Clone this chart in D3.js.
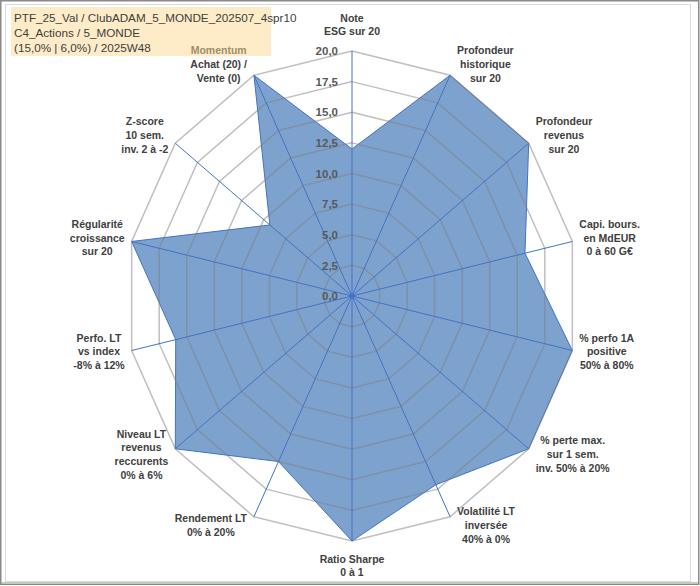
<!DOCTYPE html>
<html>
<head>
<meta charset="utf-8">
<script src="https://cdn.jsdelivr.net/npm/d3@7"></script>
<style>
  body { margin: 0; background: #fff; }
  svg { display: block; }
</style>
</head>
<body>
<div id="chart"></div>
<script>
// titre (cartouche en haut a gauche)
const titleLines = [
    "PTF_25_Val / ClubADAM_5_MONDE_202507_4spr10",
    "C4_Actions / 5_MONDE",
    "(15,0% | 6,0%) / 2025W48"
];

// axes du radar, dans le sens horaire depuis le haut
const axisLabels = [
    ["Note", "ESG sur 20"],
    ["Profondeur", "historique", "sur 20"],
    ["Profondeur", "revenus", "sur 20"],
    ["Capi. bours.", "en MdEUR", "0 à 60 G€"],
    ["% perfo 1A", "positive", "50% à 80%"],
    ["% perte max.", "sur 1 sem.", "inv. 50% à 20%"],
    ["Volatilité LT", "inversée", "40% à 0%"],
    ["Ratio Sharpe", "0 à 1"],
    ["Rendement LT", "0% à 20%"],
    ["Niveau LT", "revenus", "reccurents", "0% à 6%"],
    ["Perfo. LT", "vs index", "-8% à 12%"],
    ["Régularité", "croissance", "sur 20"],
    ["Z-score", "10 sem.", "inv. 2 à -2"],
    ["Momentum", "Achat (20) /", "Vente (0)"]
];

const scores = [12, 20, 20, 15.7, 20, 20, 17.1, 20, 15, 20, 16, 20, 9.3, 20];

const tickValues = [0, 2.5, 5, 7.5, 10, 12.5, 15, 17.5, 20];

const W = 700, H = 586;
const cx = 352, cy = 296;
const n = axisLabels.length;

const svg = d3.select("#chart").append("svg")
    .attr("width", W)
    .attr("height", H)
    .style("font-family", "'Liberation Sans', Arial, sans-serif");

// cadre
svg.append("rect").attr("x", 0.75).attr("y", 0.75).attr("width", W - 2).attr("height", H - 2.5)
    .attr("fill", "#fff").attr("stroke", "#8a8a8a").attr("stroke-width", 1.5);
svg.append("rect").attr("x", 5.5).attr("y", 4.5).attr("width", 685).attr("height", 577)
    .attr("fill", "none").attr("stroke", "#dadada");
svg.append("line").attr("x1", 2).attr("x2", W - 2).attr("y1", 582.5).attr("y2", 582.5)
    .attr("stroke", "#b5d9a4");

// echelles (le graphique d'origine est legerement ecrase en largeur)
const angle = d3.scaleLinear().domain([0, n]).range([0, 2 * Math.PI]);
const rx = d3.scaleLinear().domain([0, 20]).range([0, 226]);
const ry = d3.scaleLinear().domain([0, 20]).range([0, 245]);

const px = (i, v) => cx + Math.sin(angle(i)) * rx(v);
const py = (i, v) => cy - Math.cos(angle(i)) * ry(v);

const g = svg.append("g");

// remplissage
const idx = d3.range(n);
g.append("path")
    .datum(scores)
    .attr("d", d3.line().x((d, i) => px(i, d)).y((d, i) => py(i, d)).curve(d3.curveLinearClosed))
    .attr("fill", "#4f81bd")
    .attr("fill-opacity", 0.74)
    .attr("stroke", "#4472c4")
    .attr("stroke-width", 1);

// grille polygonale
g.selectAll(".ring")
    .data(tickValues.slice(1))
    .enter()
    .append("path")
    .attr("d", t => d3.line().x(i => px(i, t)).y(i => py(i, t)).curve(d3.curveLinearClosed)(idx))
    .attr("fill", "none")
    .attr("stroke", "#7f7f7f")
    .attr("stroke-opacity", 0.5)
    .attr("stroke-width", 1.5);

// rayons
g.selectAll(".spoke")
    .data(idx)
    .enter()
    .append("line")
    .attr("x1", cx).attr("y1", cy)
    .attr("x2", i => px(i, 20))
    .attr("y2", i => py(i, 20))
    .attr("stroke", "#4472c4")
    .attr("stroke-width", 1);

g.append("circle").attr("cx", cx).attr("cy", cy).attr("r", 2.5).attr("fill", "#4472c4");

// graduations
const fmt = v => d3.format(".1f")(v).replace(".", ",");
g.selectAll(".tick")
    .data(tickValues)
    .enter()
    .append("text")
    .attr("x", cx - 14)
    .attr("y", t => py(0, t))
    .attr("dy", "0.36em")
    .attr("text-anchor", "end")
    .attr("font-size", 11.5)
    .attr("font-weight", "bold")
    .attr("fill", "#595959")
    .text(fmt);

// libelles des axes
const lineH = 13.7;
const labels = svg.append("g")
    .attr("font-size", 10.5)
    .attr("font-weight", "bold")
    .attr("fill", "#404040");

axisLabels.forEach((lines, i) => {
    const s = Math.sin(angle(i)), c = Math.cos(angle(i));
    const t = labels.append("text").attr("text-anchor", "middle");
    lines.forEach((l, k) => t.append("tspan").attr("x", 0).attr("y", k * lineH).text(l));
    const w = d3.max(t.selectAll("tspan").nodes(), d => d.getComputedTextLength());
    const h = (lines.length - 1) * lineH;
    let x, y;
    if (Math.abs(s) < 0.01) {
        x = cx;
        y = c > 0 ? py(i, 20) - 19 - h : py(i, 20) + 18;
    } else {
        x = px(i, 20) + Math.sign(s) * (w / 2 + 7);
        y = cy - c * (ry(20) + 11) - h / 2 - 1;
    }
    t.attr("transform", `translate(${x},${y + 3.5})`);
});

// cartouche du titre, semi-transparent par-dessus le libelle Momentum
svg.append("rect")
    .attr("x", 11).attr("y", 7).attr("width", 260).attr("height", 49)
    .attr("fill", "#fbd98f").attr("fill-opacity", 0.5);

svg.append("g")
    .attr("font-size", 11.7)
    .attr("fill", "#404040")
    .selectAll("text")
    .data(titleLines)
    .enter()
    .append("text")
    .attr("x", 14)
    .attr("y", (d, i) => 21.5 + i * 15.3)
    .text(d => d);
</script>
</body>
</html>
